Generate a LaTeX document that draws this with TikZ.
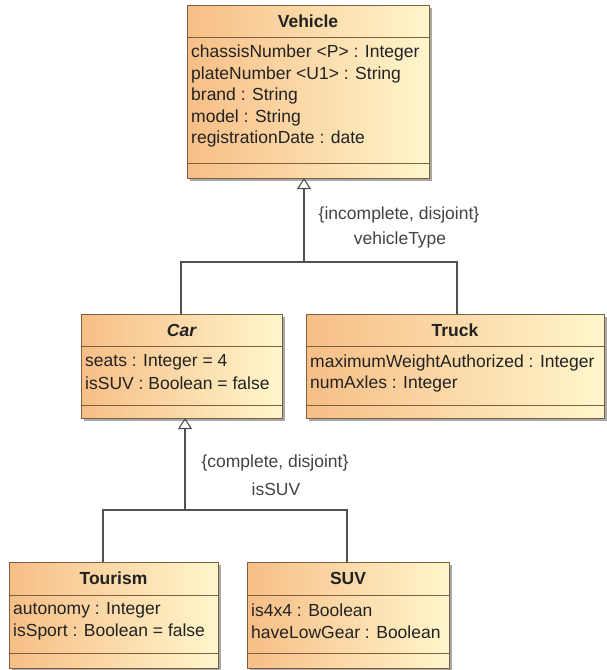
\documentclass[tikz,border=0pt]{standalone}
\usepackage{fontspec}
\setmainfont{Liberation Sans}
\usetikzlibrary{arrows.meta}
\definecolor{cor}{HTML}{F7BE86}
\definecolor{cye}{HTML}{FFF6CC}
\definecolor{cbd}{HTML}{7D6040}
\definecolor{cln}{HTML}{505050}
\definecolor{csh}{HTML}{A8A8A8}
\definecolor{ctx}{HTML}{222222}
\newcommand\umlbox[7]{%
  \fill[csh] (#2+3,#3+3) rectangle (#2+#4+3,#3+#5+3);
  \node[classbox, minimum width=#4pt, minimum height=#5pt] (#1) at (#2,#3) {};
  \draw[cbd, line width=0.9pt] (#2,#6) -- (#2+#4,#6);
  \draw[cbd, line width=0.9pt] (#2,#7) -- (#2+#4,#7);
}
\begin{document}
\begin{tikzpicture}[x=1pt,y=-1pt,
  font=\fontsize{17.5}{21}\selectfont,
  classbox/.style={draw=cbd, line width=0.9pt, left color=cor, right color=cye,
    inner sep=0pt, outer sep=0pt, anchor=north west},
  cname/.style={font=\fontsize{17.5}{21}\selectfont\bfseries, text=ctx, inner sep=0pt},
  attr/.style={anchor=west, text=ctx, inner sep=0pt},
  lbl/.style={text=ctx!85, inner sep=0pt},
  conn/.style={draw=cln, line width=1.1pt},
  gen/.style={-{Triangle[open, length=11pt, width=14pt, line width=1.1pt]}}]
\useasboundingbox[fill=white] (0,0) rectangle (606,670);

% Vehicle
\umlbox{vehicle}{187}{5}{242}{173}{37}{163}
\node[cname] (vehicle-name) at (308,21) {Vehicle};
\node[attr] (v1) at (191,53) {chassisNumber <P> : Integer};
\node[attr] (v2) at (191,74.5) {plateNumber <U1> : String};
\node[attr] (v3) at (191,96) {brand : String};
\node[attr] (v4) at (191,117.5) {model : String};
\node[attr] (v5) at (191,139) {registrationDate : date};

% Car
\umlbox{car}{81}{314}{201}{104}{346}{405}
\node[cname, font=\fontsize{17.5}{21}\selectfont\bfseries\itshape] (car-name) at (181.5,330) {Car};
\node[attr] (c1) at (85,362) {seats : Integer = 4};
\node[attr] (c2) at (85,383) {isSUV : Boolean = false};

% Truck
\umlbox{truck}{306}{314}{298}{104}{346}{405}
\node[cname] (truck-name) at (455,330) {Truck};
\node[attr] (t1) at (310,363) {maximumWeightAuthorized : Integer};
\node[attr] (t2) at (310,384) {numAxles : Integer};

% Tourism
\umlbox{tourism}{9}{562}{209}{106}{595}{653}
\node[cname] (tourism-name) at (113.5,578) {Tourism};
\node[attr] (to1) at (13,610) {autonomy : Integer};
\node[attr] (to2) at (13,632) {isSport : Boolean = false};

% SUV
\umlbox{suv}{247}{562}{202}{106}{595}{653}
\node[cname] (suv-name) at (348,578) {SUV};
\node[attr] (s1) at (251,610) {is4x4 : Boolean};
\node[attr] (s2) at (251,632) {haveLowGear : Boolean};

% Generalization Vehicle
\coordinate (vj) at (304,262);
\draw[conn] ([xshift=-0.5pt]car.north) |- (vj) -| ([xshift=2pt]truck.north);
\draw[conn, gen] (vj) -- (vj |- vehicle.south);
\node[lbl] (vt-c) at (399,215) {\{incomplete, disjoint\}};
\node[lbl] (vt-n) at (400,240) {vehicleType};

% Generalization Car
\coordinate (cj) at (185,510);
\draw[conn] ([xshift=-10.5pt]tourism.north) |- (cj) -| ([xshift=-1pt]suv.north);
\draw[conn, gen] (cj) -- (cj |- car.south);
\node[lbl] (cs-c) at (275,463) {\{complete, disjoint\}};
\node[lbl] (cs-n) at (276,489) {isSUV};
\end{tikzpicture}
\end{document}
